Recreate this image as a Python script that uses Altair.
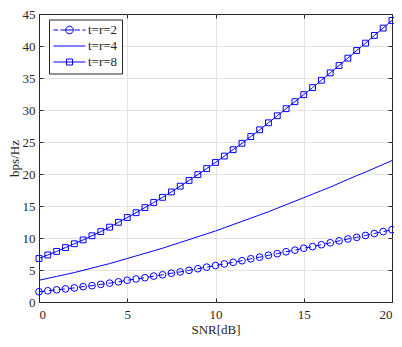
import altair as alt
import pandas as pd

# ---------------- data ----------------
names = ["t=r=2", "t=r=4", "t=r=8"]
snr = [0, 0.5, 1, 1.5, 2, 2.5, 3, 3.5, 4, 4.5, 5, 5.5, 6, 6.5, 7, 7.5, 8, 8.5, 9, 9.5,
       10, 10.5, 11, 11.5, 12, 12.5, 13, 13.5, 14, 14.5, 15, 15.5, 16, 16.5, 17, 17.5,
       18, 18.5, 19, 19.5, 20]
cap2 = [1.6, 1.75, 1.9, 2.05, 2.2, 2.4, 2.55, 2.75, 2.95, 3.15, 3.4,
        3.6, 3.8, 4.05, 4.25, 4.5, 4.7, 4.95, 5.2, 5.45, 5.7,
        5.95, 6.2, 6.45, 6.75, 7.0, 7.3, 7.55, 7.85, 8.1, 8.4,
        8.65, 8.95, 9.25, 9.55, 9.85, 10.1, 10.4, 10.7, 11.0, 11.3]
cap4 = [3.4, 3.7, 4.0, 4.3, 4.6, 4.95, 5.3, 5.65, 6.0, 6.4, 6.8,
        7.2, 7.6, 8.0, 8.4, 8.85, 9.3, 9.75, 10.2, 10.65, 11.1,
        11.6, 12.1, 12.6, 13.1, 13.6, 14.1, 14.65, 15.2, 15.75, 16.3,
        16.85, 17.4, 17.95, 18.55, 19.15, 19.75, 20.3, 20.9, 21.5, 22.1]
cap8 = [6.8, 7.35, 7.9, 8.5, 9.1, 9.7,
        10.35, 11.0, 11.7, 12.45, 13.2,
        13.95, 14.75, 15.55, 16.35, 17.2,
        18.1, 19.0, 19.9, 20.85, 21.8,
        22.8, 23.8, 24.8, 25.85, 26.9,
        28.0, 29.1, 30.2, 31.3, 32.4,
        33.5, 34.65, 35.8, 36.95, 38.1,
        39.3, 40.45, 41.65, 42.8, 44.0]
x_ticks = [0, 5, 10, 15, 20]
y_ticks = [0, 5, 10, 15, 20, 25, 30, 35, 40, 45]
x_grid = [5, 10, 15]
y_grid = [5, 10, 15, 20, 25, 30, 35, 40]

df = pd.DataFrame({
    "snr": snr * 3,
    "cap": cap2 + cap4 + cap8,
    "series": [names[0]] * len(snr) + [names[1]] * len(snr) + [names[2]] * len(snr),
})

blue = "#0000ff"
ink = "#262626"
font = "Liberation Serif"

xs = alt.Scale(domain=[0, 20], nice=False, zero=False)
ys = alt.Scale(domain=[0, 45], nice=False)

base = alt.Chart(df)

nx = alt.X("snr:Q", scale=xs, axis=None)
ny = alt.Y("cap:Q", scale=ys, axis=None)

# grid only (interior lines, no offset)
grid = base.mark_point(strokeOpacity=0, fillOpacity=0).encode(
    x=alt.X("snr:Q", scale=xs,
            axis=alt.Axis(orient="bottom", values=x_grid, grid=True, labels=False,
                          ticks=False, title=None)),
    y=alt.Y("cap:Q", scale=ys,
            axis=alt.Axis(orient="left", values=y_grid, grid=True, labels=False,
                          ticks=False, title=None)),
)

# main axes (inward ticks)
axes = base.mark_point(strokeOpacity=0, fillOpacity=0).encode(
    x=alt.X("snr:Q", scale=xs, title="SNR[dB]",
            axis=alt.Axis(orient="bottom", values=x_ticks, grid=False, offset=-4,
                          tickSize=4, labelPadding=6, titlePadding=2)),
    y=alt.Y("cap:Q", scale=ys, title="bps/Hz",
            axis=alt.Axis(orient="left", values=y_ticks, grid=False, offset=-4,
                          tickSize=4, labelPadding=4, titlePadding=1)),
)

frame = base.mark_point(strokeOpacity=0, fillOpacity=0).encode(
    x=alt.X("snr:Q", scale=xs,
            axis=alt.Axis(orient="top", values=x_ticks, labels=False, grid=False,
                          offset=-4, tickSize=4, title=None)),
    y=alt.Y("cap:Q", scale=ys,
            axis=alt.Axis(orient="right", values=y_ticks, labels=False, grid=False,
                          offset=-4, tickSize=4, title=None)),
)

line2 = base.transform_filter(alt.datum.series == names[0]).mark_line(
    strokeWidth=1, color=blue, strokeDash=[6, 4]
).encode(x=nx, y=ny)

line48 = base.transform_filter(alt.datum.series != names[0]).mark_line(
    strokeWidth=1, color=blue
).encode(x=nx, y=ny, detail="series:N")

circles = base.transform_filter(alt.datum.series == names[0]).mark_point(
    shape="circle", size=45, filled=False, color=blue, strokeWidth=1, opacity=1
).encode(x=nx, y=ny)

squares = base.transform_filter(alt.datum.series == names[2]).mark_point(
    shape="square", size=34, filled=False, color=blue, strokeWidth=1, opacity=1
).encode(x=nx, y=ny)

# legend symbols: line + marker, 32px wide, drawn from the symbol's left edge
paths = [
    "M-1,0H-0.25M0.167,0H1.083M2.5,0H3.417M3.833,0H4.333"
    "M1.033,0A0.633,0.633 0 1,1 2.3,0A0.633,0.633 0 1,1 1.033,0M1.033,0H2.3",
    "M-1,0H4.333",
    "M-1,0H1.167M2.167,0H4.333M1.167,-0.5H2.167V0.5H1.167ZM1.167,0H2.167",
]

legend_layer = base.mark_point(strokeOpacity=0, fillOpacity=0, filled=False).encode(
    x=nx, y=ny,
    shape=alt.Shape("series:N", scale=alt.Scale(domain=names, range=paths),
                    legend=alt.Legend(
                        title=None, orient="none", legendX=10, legendY=5.5,
                        symbolSize=144, symbolOpacity=1, symbolStrokeColor=blue,
                        symbolFillColor="transparent", symbolStrokeWidth=1,
                        labelFont=font, labelFontSize=13, labelColor=ink,
                        labelOffset=22, rowPadding=2, padding=4,
                        fillColor="white", strokeColor=ink,
                    )),
)

chart = alt.layer(grid, axes, frame, line2, line48, circles, squares, legend_layer).resolve_axis(
    x="independent", y="independent"
).properties(
    width=353, height=288,
    autosize=alt.AutoSizeParams(type="none"),
    padding={"left": 31, "top": 6, "right": 2, "bottom": 45},
).configure_view(
    stroke=ink, strokeWidth=1
).configure_axis(
    labelFont=font, labelFontSize=13, labelColor=ink,
    titleFont=font, titleFontSize=13, titleColor=ink, titleFontWeight="normal",
    tickColor=ink, gridColor="#e3e3e3", gridWidth=1, domain=False,
)

chart.save("out.html", embed_options={"renderer": "svg", "actions": False})
